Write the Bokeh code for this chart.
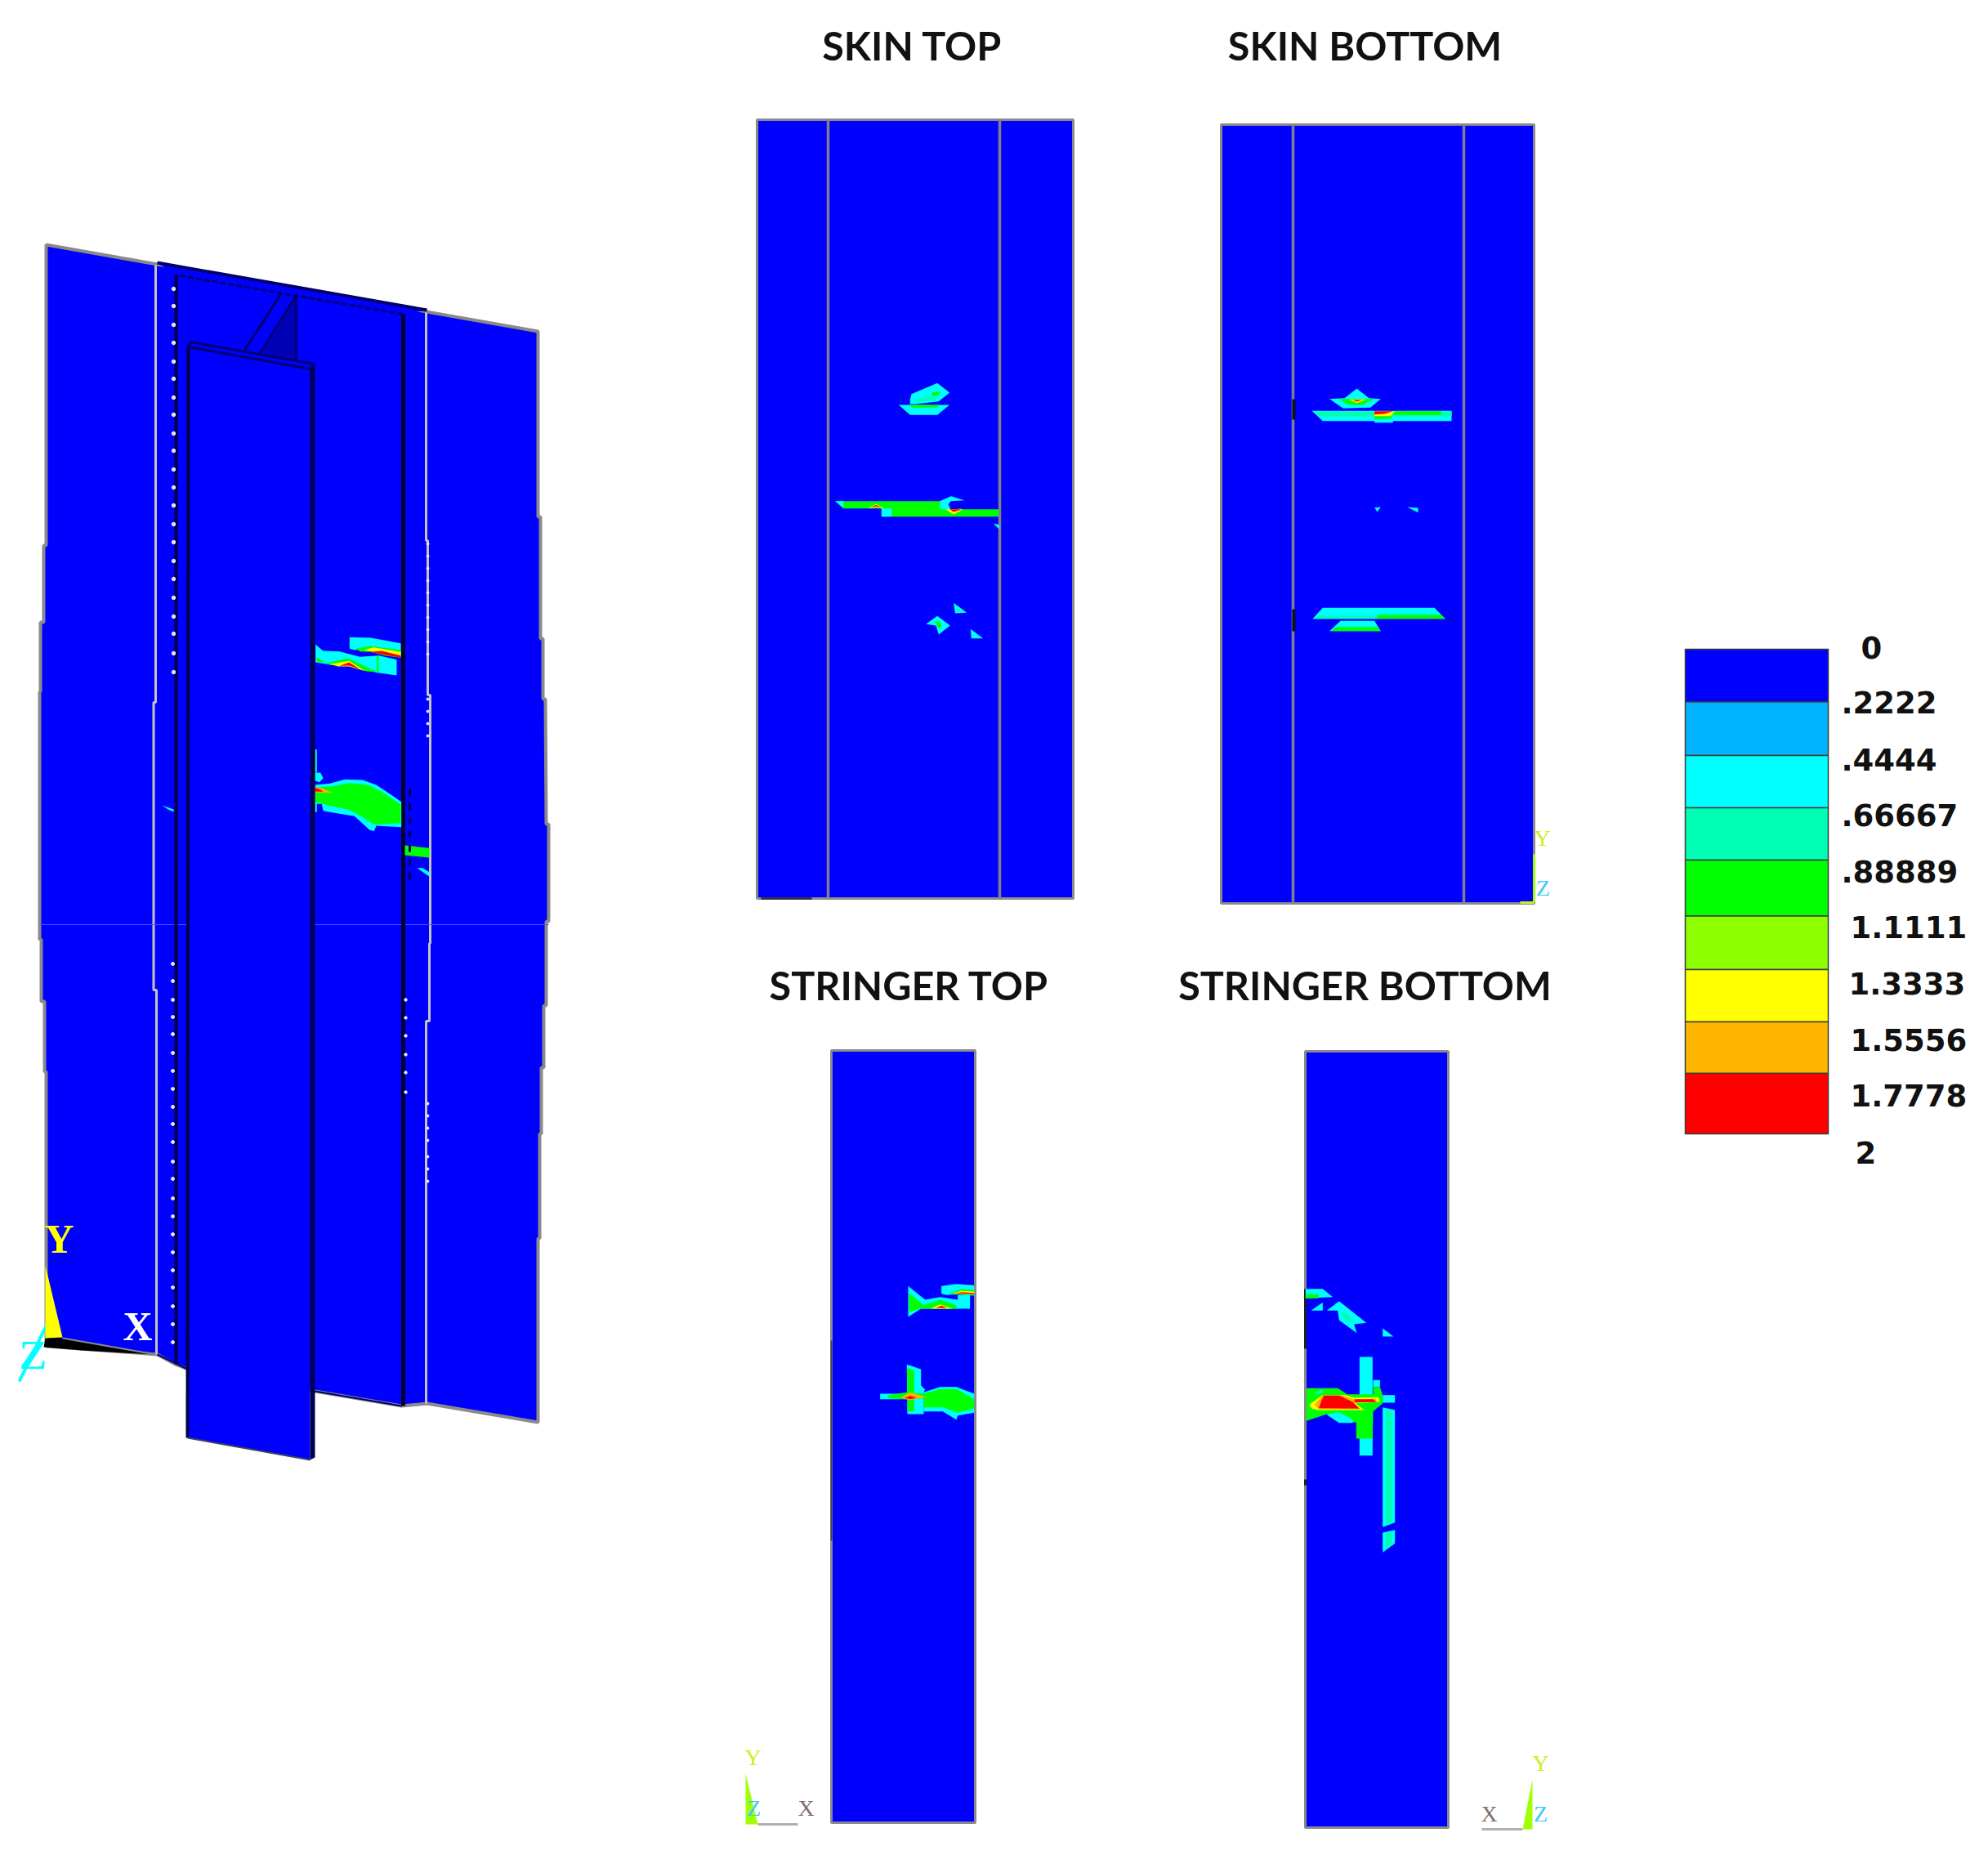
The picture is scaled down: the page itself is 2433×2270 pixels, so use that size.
from bokeh.plotting import figure
from bokeh.models import Range1d
from bokeh.embed import file_html
from bokeh.resources import INLINE
from bokeh.core.properties import value

# ---------- legend ----------
LEVEL_COLORS = ["#0000ff", "#00b4ff", "#00ffff", "#00ffb4", "#00ff00",
                "#8cff00", "#ffff00", "#ffb400", "#ff0000"]
LEVEL_EDGES = [794, 858.5, 924, 988, 1052, 1120.5, 1186, 1250, 1313, 1387]
LEVEL_LABELS = ["0", ".2222", ".4444", ".66667", ".88889", "1.1111", "1.3333", "1.5556", "1.7778", "2"]
LABEL_X = [2277, 2253, 2253, 2253, 2253, 2264, 2262, 2264, 2264, 2270]
LABEL_Y = [791.5, 859, 928.6, 997, 1066, 1134, 1203, 1272, 1340, 1410]

# ---------- titles ----------
TITLES = ["SKIN TOP", "SKIN BOTTOM", "STRINGER TOP", "STRINGER BOTTOM"]
TITLE_X = [1116, 1670, 1112, 1670]
TITLE_Y = [54, 54, 1204, 1204]

BLUE, SKY, CYAN, TEAL, GREEN, LIME, YELLOW, ORANGE, RED = LEVEL_COLORS
NAVY = "#00006e"
GREY = "#8a8a8a"

# ---------- flat panels: left, right, top, bottom, inner lines ----------
PANELS = [(926, 1313, 146, 1099, [1013, 1223]),
          (1494, 1877, 152, 1105, [1582, 1791]),
          (1017, 1193, 1285, 2230, []),
          (1597, 1772, 1286, 2236, [])]

# ---------- 3-D model ----------
MODEL_OUTLINE = [(56, 299), (658, 405), (658, 632), (661, 632), (661, 781), (664, 781), (664, 855), (667, 855),
                 (668, 1008), (671, 1008), (671, 1127), (668, 1127), (668, 1230), (665, 1230), (665, 1306),
                 (662, 1306), (662, 1387), (660, 1387), (660, 1515), (658, 1515), (658, 1740), (522, 1717),
                 (491, 1720), (385, 1702), (229, 1675), (214, 1669), (192, 1657), (56, 1647), (56, 1311),
                 (54, 1311), (54, 1225), (50, 1225), (50, 1149), (48, 1149), (48, 846), (49, 846), (49, 761),
                 (53, 761), (53, 667), (56, 667)]
INNER_LEFT = [(190, 324), (190, 859), (187.5, 859), (187.5, 1211), (191, 1211), (191, 1657)]
INNER_RIGHT = [(521, 382), (521, 661), (523, 661), (523, 850), (526, 850), (526, 1154), (525, 1154),
               (525, 1249), (521, 1249), (521, 1717)]
FLANGE = [(230, 424), (379, 451), (379, 1786), (229, 1759)]
FLANGE_SIDE = [(379, 451), (385, 445), (385, 1783), (379, 1786)]
FLANGE_TOP = [(233, 418), (384, 445), (379, 451), (230, 424)]
TOP_STRIP = [(192, 321), (522, 379), (493, 384), (215, 336)]
WEB_SHADE = [(321, 431), (362, 364), (362, 440)]
WEB_A = [(299, 428), (344, 358)]
WEB_B = [(317, 433), (362, 361)]
DOTS_LEFT_A = [353, 374, 397, 419, 442, 463, 486, 507, 530, 551, 574, 596, 618, 641, 663, 686, 708, 731, 754, 775, 799, 822]
DOTS_LEFT_B = [1179, 1200, 1223, 1244, 1265, 1288, 1310, 1332, 1354, 1375, 1397, 1421, 1442, 1466, 1488, 1510, 1532, 1554, 1575, 1598, 1620, 1642]
DOTS_MID = [1223, 1245, 1267, 1290, 1312, 1336]
DOTS_RIGHT = [665, 680, 695, 710, 725, 740, 755, 770, 785, 800, 855, 870, 885, 900, 1350, 1365, 1380, 1395, 1415, 1430, 1445]


def z(ox, oy, f, pts, fy=None):
    fy = fy or f
    return [(ox + a / f, oy + b / fy) for a, b in pts]


Z9 = lambda pts: z(370, 760, 3, pts)
Z10 = lambda pts: z(370, 910, 3, pts)
Z3 = lambda pts: z(1000, 420, 3, pts)
Z4 = lambda pts: z(1560, 420, 3, pts)
Z5 = lambda pts: z(1050, 1540, 3, pts)
Z6 = lambda pts: z(1580, 1540, 3, pts)

MODEL_CONTOURS = [
    (CYAN, Z9([(172, 58), (250, 60), (360, 80), (360, 130), (300, 120), (250, 100), (190, 105), (172, 100)])),
    (GREEN, Z9([(195, 100), (250, 90), (360, 105), (360, 133), (300, 125), (250, 112), (210, 110)])),
    (YELLOW, Z9([(225, 105), (260, 95), (360, 112), (360, 130), (320, 122), (260, 112)])),
    (RED, Z9([(245, 112), (290, 108), (360, 125), (360, 133), (300, 122)])),
    (CYAN, Z9([(47, 85), (75, 108), (135, 110), (210, 130), (280, 125), (345, 140), (345, 198), (275, 188),
               (235, 180), (170, 155), (100, 158), (47, 150)])),
    (GREEN, Z9([(47, 130), (55, 150), (100, 150), (165, 135), (275, 185), (235, 183), (165, 160), (100, 160)])),
    (GREEN, Z9([(272, 125), (279, 125), (279, 188), (272, 188)])),
    (YELLOW, Z9([(100, 157), (170, 145), (230, 182), (170, 165), (130, 165)])),
    (RED, Z9([(135, 163), (170, 150), (210, 175), (170, 162)])),
    (CYAN, Z10([(45, 150), (100, 145), (155, 130), (220, 132), (270, 150), (330, 190), (362, 212), (362, 305),
                (270, 300), (262, 320), (245, 315), (190, 265), (130, 255), (75, 245), (70, 220), (45, 220)])),
    (GREEN, Z10([(45, 160), (110, 155), (170, 143), (240, 150), (290, 175), (360, 222), (360, 290), (290, 295),
                 (260, 295), (215, 265), (165, 240), (90, 225), (60, 215), (45, 215)])),
    (TEAL, Z10([(45, 20), (52, 20), (52, 105), (45, 105)])),
    (TEAL, Z10([(45, 215), (52, 215), (52, 250), (45, 250)])),
    (CYAN, Z10([(45, 105), (65, 105), (75, 125), (62, 140), (45, 135)])),
    (ORANGE, Z10([(45, 157), (80, 165), (110, 180), (70, 178), (45, 178)])),
    (RED, Z10([(45, 160), (65, 167), (75, 175), (45, 175)])),
    (GREEN, Z10([(375, 372), (465, 382), (465, 417), (375, 408)])),
    (CYAN, Z10([(420, 455), (440, 455), (465, 470), (465, 487)])),
    (CYAN, [(198, 985), (212, 990), (212, 993), (205, 990)]),
]

SKIN_TOP_CONTOURS = [
    (CYAN, Z3([(345, 185), (440, 145), (485, 180), (445, 212), (360, 222), (340, 222), (340, 205)])),
    (TEAL, Z3([(365, 205), (430, 190), (445, 195), (430, 207), (365, 215)])),
    (GREEN, Z3([(420, 180), (450, 175), (445, 190), (420, 190)])),
    (CYAN, Z3([(298, 225), (485, 225), (440, 262), (340, 262)])),
    (GREEN, Z3([(340, 225), (450, 225), (435, 235), (345, 235)])),
    (CYAN, Z3([(450, 578), (490, 560), (540, 575), (490, 578), (480, 590), (490, 610), (530, 605), (500, 628), (470, 615), (450, 600)])),
    (GREEN, Z3([(65, 578), (450, 578), (470, 608), (665, 608), (665, 635), (235, 635), (235, 605), (95, 605)])),
    (CYAN, Z3([(65, 578), (95, 578), (95, 603)])),
    (CYAN, Z3([(235, 605), (272, 605), (272, 635), (235, 635)])),
    (CYAN, Z3([(450, 578), (470, 570), (475, 608), (450, 608)])),
    (YELLOW, Z3([(185, 605), (215, 588), (245, 607), (215, 600)])),
    (RED, Z3([(195, 600), (215, 592), (235, 602), (215, 597)])),
    (YELLOW, Z3([(470, 608), (535, 608), (500, 627)])),
    (RED, Z3([(485, 608), (530, 608), (500, 618)])),
    (CYAN, Z3([(645, 660), (668, 665), (668, 682)])),
    (CYAN, Z3([(500, 952), (548, 988), (505, 990)])),
    (TEAL, Z3([(505, 968), (530, 985), (507, 987)])),
    (CYAN, Z3([(398, 1030), (440, 1000), (487, 1035), (445, 1068), (435, 1035)])),
    (GREEN, Z3([(430, 1020), (450, 1020), (455, 1040), (445, 1045)])),
    (CYAN, Z3([(562, 1048), (608, 1082), (565, 1082)])),
]

SKIN_BOTTOM_CONTOURS = [
    (CYAN, Z4([(300, 165), (345, 200), (388, 203), (350, 235), (250, 238), (200, 203), (255, 200)])),
    (GREEN, Z4([(235, 203), (365, 203), (320, 225), (270, 225)])),
    (YELLOW, Z4([(270, 205), (335, 205), (300, 218)])),
    (RED, Z4([(285, 207), (320, 207), (300, 213)])),
    (CYAN, Z4([(135, 247), (648, 247), (648, 284), (175, 284)])),
    (TEAL, Z4([(145, 250), (648, 250), (648, 268), (160, 268)])),
    (GREEN, Z4([(365, 248), (610, 248), (610, 262), (365, 262)])),
    (CYAN, Z4([(365, 262), (440, 262), (432, 290), (365, 290)])),
    (GREEN, Z4([(365, 255), (440, 250), (425, 275), (365, 278)])),
    (YELLOW, Z4([(365, 248), (440, 248), (425, 266), (365, 266)])),
    (RED, Z4([(365, 248), (435, 248), (400, 258), (365, 260)])),
    (CYAN, Z4([(365, 602), (388, 600), (375, 618)])),
    (CYAN, Z4([(485, 600), (525, 603), (525, 620)])),
    (CYAN, Z4([(175, 970), (585, 970), (625, 1010), (138, 1010)])),
    (TEAL, Z4([(160, 998), (375, 998), (375, 1010), (138, 1010)])),
    (GREEN, Z4([(375, 995), (610, 995), (625, 1010), (375, 1010)])),
    (CYAN, Z4([(240, 1018), (365, 1018), (388, 1055), (200, 1055)])),
    (GREEN, Z4([(225, 1040), (375, 1040), (388, 1055), (205, 1055)])),
]

STRINGER_TOP_CONTOURS = [
    (CYAN, Z5([(305, 100), (360, 92), (425, 97), (425, 135), (365, 130), (325, 133), (305, 128)])),
    (GREEN, Z5([(330, 130), (375, 112), (425, 115), (425, 133)])),
    (YELLOW, Z5([(345, 128), (375, 118), (425, 120), (425, 130)])),
    (RED, Z5([(355, 126), (380, 122), (425, 125), (425, 130)])),
    (CYAN, Z5([(183, 100), (245, 150), (300, 140), (365, 150), (365, 133), (410, 133), (410, 183), (230, 183), (183, 213)])),
    (GREEN, Z5([(186, 125), (240, 170), (300, 150), (360, 170), (362, 183), (230, 183), (186, 195)])),
    (YELLOW, Z5([(265, 183), (300, 167), (345, 183)])),
    (RED, Z5([(285, 180), (305, 172), (325, 180)])),
    (CYAN, Z5([(178, 388), (230, 405), (230, 465), (245, 480), (240, 490), (240, 570), (180, 570)])),
    (GREEN, Z5([(178, 400), (205, 410), (205, 560), (180, 560)])),
    (CYAN, Z5([(80, 495), (180, 495), (180, 515), (80, 515)])),
    (CYAN, Z5([(240, 490), (300, 470), (360, 470), (425, 495), (425, 565), (365, 575), (360, 590), (310, 560), (240, 560)])),
    (GREEN, Z5([(110, 500), (180, 490), (240, 495), (300, 478), (360, 478), (425, 515), (425, 550), (365, 565),
                (310, 545), (240, 545), (240, 512), (180, 515), (110, 512)])),
    (ORANGE, Z5([(155, 510), (190, 490), (250, 508), (190, 518)])),
    (RED, Z5([(170, 510), (190, 503), (215, 510), (190, 515)])),
]

STRINGER_BOTTOM_CONTOURS = [
    (CYAN, Z6([(52, 110), (115, 110), (152, 140), (52, 145)])),
    (GREEN, Z6([(52, 130), (100, 130), (100, 145), (52, 145)])),
    (CYAN, Z6([(72, 190), (115, 160), (115, 190)])),
    (CYAN, Z6([(130, 190), (175, 155), (275, 235), (230, 240), (240, 272), (175, 225), (170, 190)])),
    (TEAL, Z6([(175, 190), (210, 205), (230, 235), (200, 225)])),
    (CYAN, Z6([(335, 255), (375, 285), (335, 285)])),
    (CYAN, Z6([(250, 360), (298, 360), (298, 722), (250, 722)])),
    (CYAN, Z6([(335, 500), (380, 500), (380, 528), (335, 528)])),
    (CYAN, Z6([(335, 545), (380, 555), (380, 968), (335, 985)])),
    (TEAL, Z6([(346, 552), (370, 558), (370, 970), (346, 980)])),
    (CYAN, Z6([(335, 1005), (380, 995), (380, 1045), (335, 1078)])),
    (TEAL, Z6([(346, 1005), (370, 1000), (370, 1050), (346, 1065)])),
    (CYAN, Z6([(300, 445), (325, 445), (325, 470), (300, 470)])),
    (GREEN, Z6([(55, 475), (170, 475), (205, 497), (250, 497), (300, 497), (300, 470), (325, 470), (335, 500), (335, 530),
                (300, 560), (298, 660), (238, 660), (238, 600), (175, 600), (130, 570), (55, 595)])),
    (CYAN, Z6([(130, 572), (175, 562), (225, 590), (225, 602), (175, 602)])),
    (TEAL, Z6([(160, 575), (190, 575), (175, 585)])),
    (CYAN, Z6([(80, 495), (115, 480), (115, 492)])),
    (YELLOW, Z6([(65, 535), (115, 500), (200, 500), (230, 510), (320, 508), (325, 525), (235, 530), (268, 555), (100, 556), (75, 550)])),
    (ORANGE, Z6([(85, 535), (115, 500), (185, 500), (230, 515), (310, 513), (315, 525), (225, 528), (255, 552), (100, 553)])),
    (RED, Z6([(100, 548), (118, 502), (175, 502), (225, 525), (250, 550)])),
    (RED, Z6([(232, 515), (300, 515), (312, 525), (232, 527)])),
]

# ---------- axis triads ----------
MODEL_TRIAD_TEXT = [("Y", 72, 1515, "#ffff00"), ("X", 168, 1622, "#ffffff"), ("Z", 40, 1657, "#00ffff")]
SMALL_TRIAD_TEXT = [("Y", 1887, 1025, "#c8f020"), ("Z", 1888, 1086, "#40c8ff"),
                    ("Y", 921, 2150, "#c8f020"), ("Z", 922, 2212, "#40c8ff"), ("X", 986, 2212, "#80706a"),
                    ("Y", 1885, 2157, "#c8f020"), ("Z", 1885, 2219, "#40c8ff"), ("X", 1822, 2219, "#80706a")]
TRIAD_TRIANGLES = [(YELLOW, [(55, 1548), (76, 1636), (55, 1637)]),
                   ("#a0ff00", [(912, 2170), (927, 2232), (912, 2232)]),
                   ("#a0ff00", [(1875, 2177), (1875, 2238), (1863, 2238)])]
MODEL_BASE = [(55, 1637), (76, 1637), (190, 1657), (150, 1655), (100, 1652), (53, 1648)]

W, H = 2417, 2250
p = figure(width=W, height=H, x_range=Range1d(0, W), y_range=Range1d(H, 0),
           output_backend="svg", toolbar_location=None, min_border=0, outline_line_color=None,
           background_fill_color="white", border_fill_color="white")
p.axis.visible = False
p.grid.visible = False


def patch(pts, color, line=None, lw=1):
    p.patch([a for a, _ in pts], [b for _, b in pts], fill_color=color, line_color=line, line_width=lw)


def path(pts, color, lw=2, dash="solid"):
    p.line([a for a, _ in pts], [b for _, b in pts], line_color=color, line_width=lw, line_dash=dash)


# 3-D model
patch(MODEL_OUTLINE, BLUE, GREY, 4)
path(INNER_LEFT, "#c4c4c4", 3)
path(INNER_RIGHT, "#c4c4c4", 3)
p.line([48, 671], [1131, 1131], line_color="#5050ff", line_width=1)
path([(215, 336), (215, 1669)], "#00003c", 4)
path([(493, 384), (493, 1720)], "#000028", 5)
path([(385, 1702), (491, 1720)], NAVY, 2)
path([(229, 1675), (192, 1657)], NAVY, 2)
patch(TOP_STRIP, BLUE)
path(TOP_STRIP[:2], NAVY, 4)
path(TOP_STRIP[2:], NAVY, 3, "7 3")
patch(WEB_SHADE, "#0000b4")
path(WEB_A, NAVY, 3)
path(WEB_B, NAVY, 3)
path([(362, 361), (362, 445)], NAVY, 3)
for color, pts in MODEL_CONTOURS:
    patch(pts, color)
path([(501, 965), (501, 1078)], "#000050", 3, "9 8")
patch(FLANGE, BLUE)
path(FLANGE[3:] + FLANGE[:1], "#00004a", 4)
path(FLANGE[2:], "#404060", 2)
patch(FLANGE_SIDE, "#000050")
patch(FLANGE_TOP, BLUE, NAVY, 3)
p.scatter([212] * len(DOTS_LEFT_A), DOTS_LEFT_A, size=4.5, color="#e8e8ff")
p.scatter([211] * len(DOTS_LEFT_B), DOTS_LEFT_B, size=4, color="#e8e8ff")
p.scatter([496] * len(DOTS_MID), DOTS_MID, size=3.5, color="#e8e8ff")
p.scatter([523] * len(DOTS_RIGHT), DOTS_RIGHT, size=3, color="#e8e8ff")
patch(MODEL_BASE, "#000000")
path(MODEL_BASE[1:3], GREY, 2)

# flat panels
for (x0, x1, y0, y1, inner) in PANELS:
    patch([(x0, y0), (x1, y0), (x1, y1), (x0, y1)], BLUE, GREY, 3)
    for x in inner:
        path([(x, y0), (x, y1)], "#7f7f8f", 3.5)
path([(931, 1099), (993, 1099)], "#303040", 3)
path([(1583, 488), (1583, 513)], "#101018", 4)
path([(1583, 745), (1583, 772)], "#101018", 4)
path([(1597, 1577), (1597, 1650)], "#202020", 3)
path([(1597, 1810), (1597, 1817)], "#202020", 3)
path([(1017, 1640), (1017, 1885)], "#404050", 2)
path([(1877, 1045), (1877, 1103)], "#a0ff00", 3)
path([(1860, 1104), (1877, 1104)], "#c8f020", 3)
for color, pts in SKIN_TOP_CONTOURS + SKIN_BOTTOM_CONTOURS + STRINGER_TOP_CONTOURS + STRINGER_BOTTOM_CONTOURS:
    patch(pts, color)

# axis triads
path([(57, 1620), (23, 1690)], "#00ffff", 4)
path([(927, 2232), (976, 2232)], "#b0b0b0", 3)
path([(1813, 2238), (1863, 2238)], "#b0b0b0", 3)
for color, pts in TRIAD_TRIANGLES:
    patch(pts, color)
p.text([t[1] for t in MODEL_TRIAD_TEXT], [t[2] for t in MODEL_TRIAD_TEXT], text=[t[0] for t in MODEL_TRIAD_TEXT],
       text_color=[t[3] for t in MODEL_TRIAD_TEXT], text_font_size="50px", text_font_style="bold",
       text_font=value("Liberation Serif"), text_align="center", text_baseline="middle")
p.text([t[1] for t in SMALL_TRIAD_TEXT], [t[2] for t in SMALL_TRIAD_TEXT], text=[t[0] for t in SMALL_TRIAD_TEXT],
       text_color=[t[3] for t in SMALL_TRIAD_TEXT], text_font_size="28px",
       text_font=value("Liberation Serif"), text_align="center", text_baseline="middle")

# legend
for i, c in enumerate(LEVEL_COLORS):
    p.quad(left=2062, right=2237, top=LEVEL_EDGES[i], bottom=LEVEL_EDGES[i + 1], fill_color=c,
           line_color="#3c3c3c", line_width=1.5)
p.text(LABEL_X, LABEL_Y, text=LEVEL_LABELS, text_font=value("DejaVu Sans"), text_font_style="bold",
       text_font_size="37px", text_color="#111111", text_align="left", text_baseline="middle")

# titles
p.text(TITLE_X, TITLE_Y, text=TITLES, text_font=value("Lato"), text_font_style="bold",
       text_font_size="48.5px", text_color="#111111", text_align="center", text_baseline="middle")

open("out.html", "w").write(file_html(p, INLINE))
